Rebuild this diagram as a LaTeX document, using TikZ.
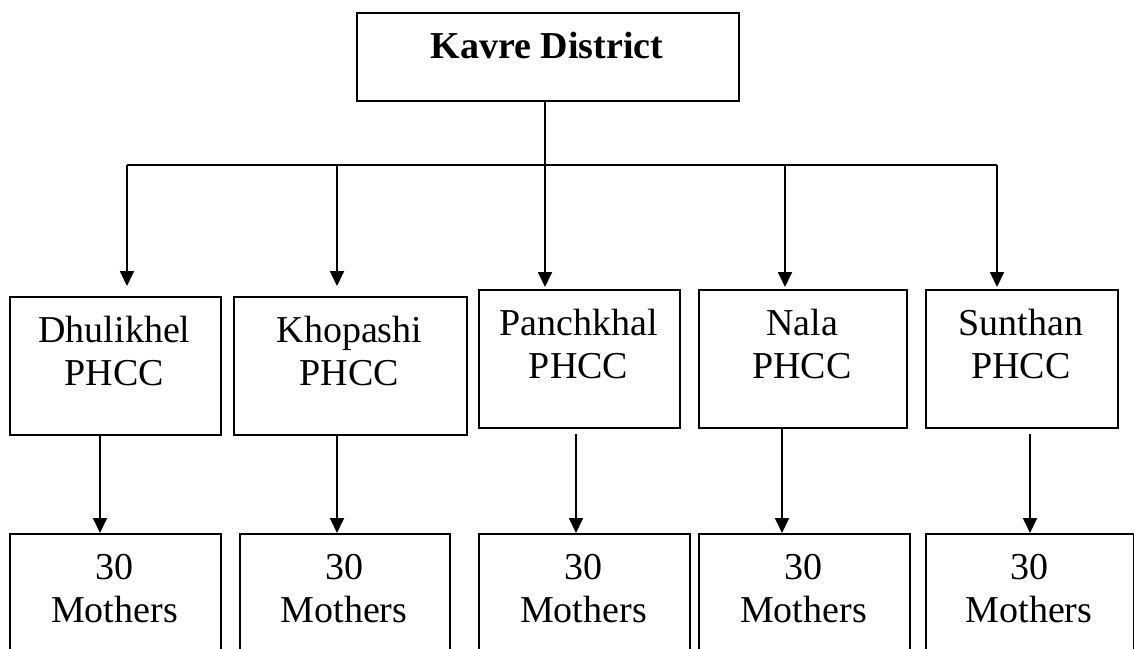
\documentclass[tikz,border=0pt]{standalone}
\usepackage{fontspec}
\setmainfont{Liberation Serif}
\usetikzlibrary{arrows.meta}
\begin{document}
\begin{tikzpicture}[x=0.5pt,y=-0.5pt,
  box/.style={draw, line width=1.1pt, inner sep=0pt, anchor=north west, minimum height=69pt},
  mbox/.style={draw, line width=1.1pt, inner sep=0pt, anchor=north west, minimum height=73.5pt},
  lbl/.style={font=\fontsize{19}{21.5}\selectfont, align=center, inner sep=0pt},
  arr/.style={line width=0.9pt, -{Triangle[length=7.5pt,width=7pt]}},
  ln/.style={line width=0.9pt}]
\useasboundingbox (0,0) rectangle (1134,648);
% top box
\node[box, minimum width=191pt, minimum height=44pt] (top) at (356,12) {};
\node[lbl, font=\fontsize{19}{21.5}\selectfont\bfseries] (ttop) at (547,46) {Kavre District};
% PHCC boxes
\node[box, minimum width=105.5pt] (b1) at (9,296) {};
\node[box, minimum width=116.5pt] (b2) at (233,296) {};
\node[box, minimum width=100.5pt] (b3) at (478,289) {};
\node[box, minimum width=104pt] (b4) at (698,289) {};
\node[box, minimum width=96pt] (b5) at (925,289) {};
\node[lbl] (t1) at (114.5,351) {Dhulikhel\\PHCC};
\node[lbl] (t2) at (349.5,351) {Khopashi\\PHCC};
\node[lbl] (t3) at (578.5,344) {Panchkhal\\PHCC};
\node[lbl] (t4) at (802,344) {Nala\\PHCC};
\node[lbl] (t5) at (1021,344) {Sunthan\\PHCC};
% mothers boxes
\node[mbox, minimum width=105.5pt] (m1) at (9,533) {};
\node[mbox, minimum width=105pt] (m2) at (239,533) {};
\node[mbox, minimum width=105.5pt] (m3) at (478,533) {};
\node[mbox, minimum width=105.5pt] (m4) at (698,533) {};
\node[mbox, minimum width=104pt] (m5) at (925,533) {};
\node[lbl] (n1) at (114.5,588.5) {30\\Mothers};
\node[lbl] (n2) at (344,588.5) {30\\Mothers};
\node[lbl] (n3) at (583.5,588.5) {30\\Mothers};
\node[lbl] (n4) at (803.5,588.5) {30\\Mothers};
\node[lbl] (n5) at (1029,588.5) {30\\Mothers};
% tree connectors
\coordinate (j) at (545,165);
\coordinate (d1) at (127,165);
\coordinate (d2) at (337,165);
\coordinate (d3) at (545,165);
\coordinate (d4) at (785,165);
\coordinate (d5) at (997,165);
\draw[ln] (top.south -| j) -- (j);
\draw[ln] (d1) -- (d5);
\draw[arr, shorten >=5pt] (d1) -- (d1 |- b1.north);
\draw[arr, shorten >=5pt] (d2) -- (d2 |- b2.north);
\draw[arr, shorten >=1pt] (d3) -- (d3 |- b3.north);
\draw[arr, shorten >=1pt] (d4) -- (d4 |- b4.north);
\draw[arr, shorten >=1pt] (d5) -- (d5 |- b5.north);
% lower connectors
\coordinate (l1) at (100,0);
\coordinate (l2) at (337,0);
\coordinate (l3) at (576,0);
\coordinate (l4) at (782,0);
\coordinate (l5) at (1030,0);
\draw[arr] (l1 |- b1.south) -- (l1 |- m1.north);
\draw[arr, shorten <=-1pt] (l2 |- b2.south) -- (l2 |- m2.north);
\draw[arr, shorten <=2.5pt] (l3 |- b3.south) -- (l3 |- m3.north);
\draw[arr] (l4 |- b4.south) -- (l4 |- m4.north);
\draw[arr, shorten <=2.5pt] (l5 |- b5.south) -- (l5 |- m5.north);
\end{tikzpicture}
\end{document}
